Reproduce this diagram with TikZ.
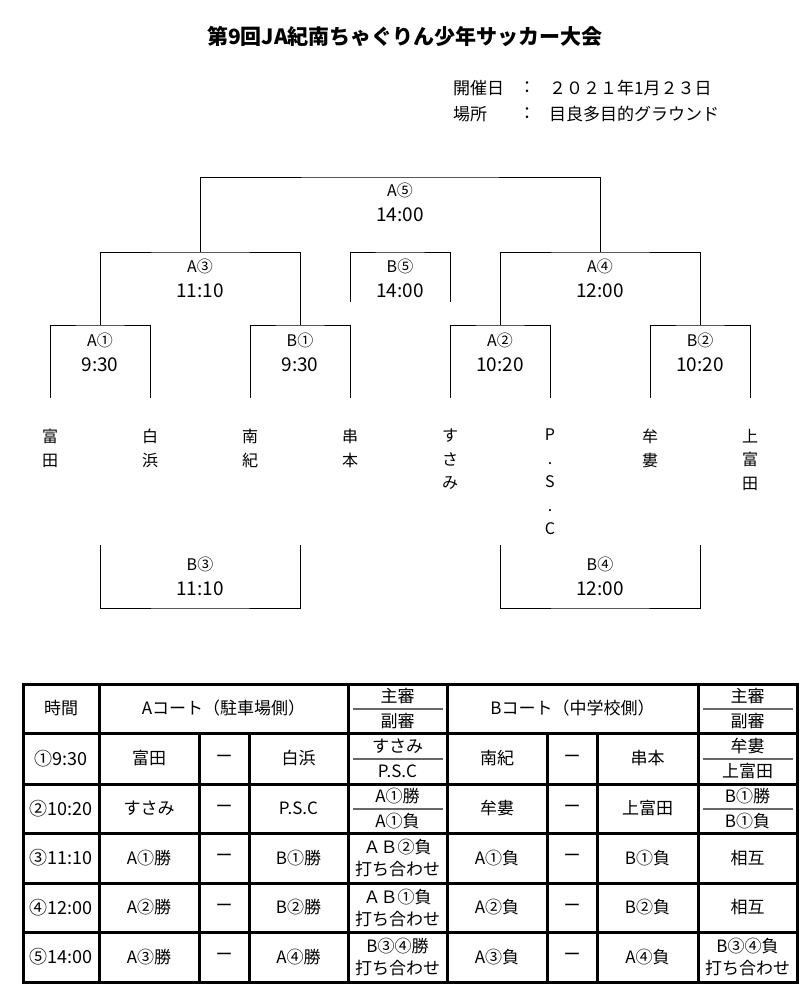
\documentclass[tikz,border=0pt]{standalone}
\usepackage{fontspec}
\setmainfont{Noto Sans CJK JP}

\begin{document}
\begin{tikzpicture}[x=1pt,y=-1pt,
  bline/.style={line width=.9pt},
  lbl/.style={font=\fontsize{16}{25}\selectfont, align=center, inner sep=0pt},
  team/.style={font=\fontsize{16}{23.5}\selectfont, align=center, anchor=north, inner sep=0pt},
  tline/.style={line width=3pt},
  rline/.style={line width=1.4pt, black!60},
  cell/.style={font=\fontsize{17}{22}\selectfont, align=center, inner sep=0pt}]

\useasboundingbox (0,0) rectangle (807,999);

\node[font=\fontsize{21}{21}\selectfont\bfseries] (title) at (405,37) {第9回JA紀南ちゃぐりん少年サッカー大会};

\node[cell, anchor=west] (datek) at (453,88) {開催日};
\node[cell] (datec) at (527,88) {：};
\node[cell, anchor=west] (datev) at (549,88) {２０２１年1月２３日};
\node[cell, anchor=west] (placek) at (453,114) {場所};
\node[cell] (placec) at (527,114) {：};
\node[cell, anchor=west] (placev) at (549,114) {目良多目的グラウンド};

% bracket
\foreach \n/\x in {1/50,2/150,3/250,4/350,5/450,6/550,7/650,8/750}
  \coordinate (t\n) at (\x,398);
\coordinate (a1) at (100,325);
\coordinate (b1) at (300,325);
\coordinate (a2) at (500,325);
\coordinate (b2) at (700,325);
\coordinate (a3) at (200,252);
\coordinate (a4) at (600,252);
\coordinate (a5) at (400,177);
\coordinate (b5) at (400,252);
\coordinate (b5l) at (350,302);
\coordinate (b5r) at (450,302);
\coordinate (b3) at (200,608);
\coordinate (b3l) at (100,545);
\coordinate (b3r) at (300,545);
\coordinate (b4) at (600,608);
\coordinate (b4l) at (500,545);
\coordinate (b4r) at (700,545);

\draw[bline] (t1) |- (a1) -| (t2);
\draw[bline] (t3) |- (b1) -| (t4);
\draw[bline] (t5) |- (a2) -| (t6);
\draw[bline] (t7) |- (b2) -| (t8);
\draw[bline] (a1) |- (a3) -| (b1);
\draw[bline] (a2) |- (a4) -| (b2);
\draw[bline] (a3) |- (a5) -| (a4);
\draw[bline] (b5l) |- (b5) -| (b5r);
\draw[bline] (b3l) |- (b3) -| (b3r);
\draw[bline] (b4l) |- (b4) -| (b4r);

\newcommand\gtime[2]{#1\\{\fontsize{19}{25}\selectfont #2}}
\node[lbl] (la5) at (400,202) {\gtime{A⑤}{14:00}};
\node[lbl] (la3) at (200,278) {\gtime{A③}{11:10}};
\node[lbl] (lb5) at (400,278) {\gtime{B⑤}{14:00}};
\node[lbl] (la4) at (600,278) {\gtime{A④}{12:00}};
\node[lbl] (la1) at (100,352) {\gtime{A①}{9:30}};
\node[lbl] (lb1) at (300,352) {\gtime{B①}{9:30}};
\node[lbl] (la2) at (500,352) {\gtime{A②}{10:20}};
\node[lbl] (lb2) at (700,352) {\gtime{B②}{10:20}};
\node[lbl] (lb3) at (200,576) {\gtime{B③}{11:10}};
\node[lbl] (lb4) at (600,576) {\gtime{B④}{12:00}};

\node[team] (n1) at (50,429) {富\\田};
\node[team] (n2) at (150,429) {白\\浜};
\node[team] (n3) at (250,429) {南\\紀};
\node[team] (n4) at (350,429) {串\\本};
\node[team] (n5) at (450,429) {す\\さ\\み};
\node[team] (n6) at (550,429) {P\\.\\S\\.\\C};
\node[team] (n7) at (650,429) {牟\\婁};
\node[team] (n8) at (750,429) {上\\富\\田};

% table
\draw[tline] (23,684) rectangle (797,982);
\foreach \y in {733,784,833,883,932}
  \draw[tline] (23,\y) -- (797,\y);
\foreach \x in {99,348,447,698}
  \draw[tline] (\x,684) -- (\x,982);
\foreach \x in {199,249,547,597}
  \draw[tline] (\x,733) -- (\x,982);
\foreach \x in {348,698}
  \foreach \y in {709,759,809}
    \draw[rline] (\x+5,\y) -- (\x+95,\y);

\node[cell] (hd0) at (61,708.5) {時間};
\node[cell] (hda) at (223.5,708.5) {Aコート（駐車場側）};
\node[cell] (hdb) at (572.5,708.5) {Bコート（中学校側）};
\node[cell] (hra) at (397.5,708.5) {主審\\[3pt]副審};
\node[cell] (hrb) at (747.5,708.5) {主審\\[3pt]副審};

\foreach \y/\tm/\ta/\tb/\ra/\tc/\td/\rb [count=\r] in {
  758.5/①9:30/富田/白浜/すさみ\\[3pt]P.S.C/南紀/串本/牟婁\\[3pt]上富田,
  808.5/②10:20/すさみ/P.S.C/A①勝\\[3pt]A①負/牟婁/上富田/B①勝\\[3pt]B①負,
  858/③11:10/A①勝/B①勝/ＡＢ②負\\打ち合わせ/A①負/B①負/相互,
  907.5/④12:00/A②勝/B②勝/ＡＢ①負\\打ち合わせ/A②負/B②負/相互,
  957/⑤14:00/A③勝/A④勝/B③④勝\\打ち合わせ/A③負/A④負/B③④負\\打ち合わせ}{
  \node[cell, font=\fontsize{18}{22}\selectfont] (tm\r) at (61,\y) {\tm};
  \node[cell] (ca\r) at (149,\y) {\ta};
  \node[cell] (da\r) at (224,\y) {ー};
  \node[cell] (cb\r) at (298.5,\y) {\tb};
  \node[cell] (ra\r) at (397.5,\y) {\ra};
  \node[cell] (cc\r) at (497,\y) {\tc};
  \node[cell] (db\r) at (572,\y) {ー};
  \node[cell] (cd\r) at (647.5,\y) {\td};
  \node[cell] (rb\r) at (747.5,\y) {\rb};
}

\end{tikzpicture}
\end{document}
